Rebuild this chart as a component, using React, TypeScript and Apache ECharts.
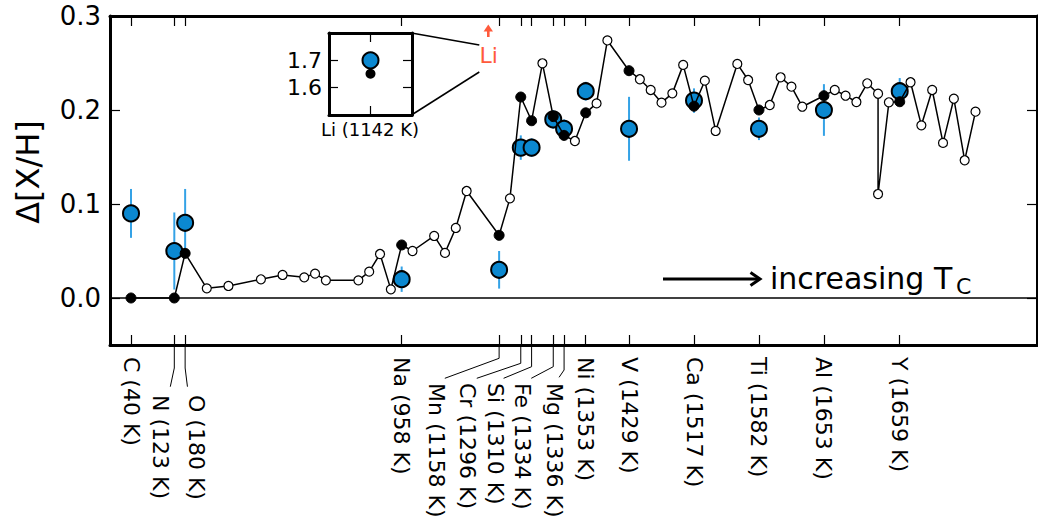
import React, { useEffect, useRef } from "react";
import * as echarts from "echarts";

// ---- data ----
const elemNames = ["C", "N", "O", "Na", "Mn", "Cr", "Si", "Fe", "Mg", "Ni", "V", "Ca", "Ti", "Al", "Y"];
const elemTc = [40, 123, 180, 958, 1158, 1296, 1310, 1334, 1336, 1353, 1429, 1517, 1582, 1653, 1659];
const elemRank = [0, 4, 5, 25, 34, 36, 37, 39, 40, 42, 46, 52, 58, 64, 71];
const starVals = [0.09, 0.05, 0.08, 0.02, 0.03, 0.16, 0.16, 0.19, 0.18, 0.22, 0.18, 0.21, 0.18, 0.2, 0.22];
const starErr = [0.026, 0.041, 0.036, 0.0135, 0.02, 0.013, 0.01, 0.01, 0.01, 0.01, 0.034, 0.013, 0.012, 0.0275, 0.014];
const modelAtElem = [0, 0, 0.0475, 0.0564, 0.0667, 0.2138, 0.1886, 0.193, 0.173, 0.197, 0.2418, 0.204, 0.2, 0.2152, 0.2088];
const otherRank = [7, 9, 12, 14, 16, 17, 18, 21, 22, 23, 24, 26, 28, 29, 30, 31, 35, 38, 41, 43, 44, 47, 48, 49, 50, 51, 53, 54, 56, 57, 59, 60, 61, 62, 65, 66, 67, 68, 69, 69, 70, 72, 73, 74, 75, 76, 77, 78];
const otherVals = [0.0103, 0.0128, 0.0199, 0.0245, 0.022, 0.0259, 0.0188, 0.0188, 0.028, 0.0468, 0.0092, 0.05, 0.066, 0.048, 0.0745, 0.1138, 0.106, 0.2497, 0.167, 0.207, 0.274, 0.2327, 0.2213, 0.2078, 0.2177, 0.248, 0.2312, 0.1777, 0.249, 0.2319, 0.2053, 0.2348, 0.2248, 0.2035, 0.2213, 0.2152, 0.2085, 0.2284, 0.2173, 0.1106, 0.2082, 0.2295, 0.1837, 0.2213, 0.165, 0.212, 0.1465, 0.1982];
const liName = "Li";
const liTc = 1142;
const liRank = 33;
const liStar = 1.7;
const liModel = 1.651;
const yTicks = [0, 0.1, 0.2, 0.3];
const insetTicks = [1.6, 1.7];

// ---- layout (not data) ----
const X_MIN = -1.94;
const X_MAX = 83.68;
// label layout per element: dx of label centre from tick, top of label, leader bend y, leader end (dx from label centre, y)
const labelLayout = [
  { dx: 0, top: 357 },
  { dx: -14.3, top: 395, bend: 368, ex: 10.3, ey: 386.7 },
  { dx: 11.8, top: 395, bend: 368, ex: -9.5, ey: 386.7 },
  { dx: 0, top: 357 },
  { dx: -62.6, top: 383, bend: 358.3, ex: 8.3, ey: 378.3 },
  { dx: -53.4, top: 383, bend: 363.3, ex: 9.4, ey: 378.3 },
  { dx: -36.3, top: 383, bend: 366.7, ex: 8.3, ey: 378.3 },
  { dx: -31, top: 383, bend: 366.7, ex: 9, ey: 378.3 },
  { dx: -9.3, top: 383, bend: 370, ex: 4.3, ey: 377.3 },
  { dx: 0, top: 357 },
  { dx: 0, top: 357 },
  { dx: 0, top: 357 },
  { dx: 0, top: 357 },
  { dx: 0, top: 357 },
  { dx: 0, top: 357 },
];

const FONT = "DejaVu Sans";
const BLUE = "#0b88d0";
const ERR = "#34a2e6";
const RED = "#ff5a3c";

export default function App() {
  const ref = useRef<HTMLDivElement>(null);
  useEffect(() => {
    if (!ref.current) return;
    const chart = echarts.init(ref.current, null, { renderer: "svg" });

    const pts: { x: number; y: number; e: boolean }[] = [];
    elemRank.forEach((r, k) => pts.push({ x: r, y: modelAtElem[k], e: true }));
    otherRank.forEach((r, k) => pts.push({ x: r, y: otherVals[k], e: false }));
    pts.sort((a, b) => a.x - b.x);
    const lineData = pts.map((p) =>
      p.e
        ? { value: [p.x, p.y], symbolSize: 10, itemStyle: { color: "#000", borderColor: "#000", borderWidth: 1 } }
        : { value: [p.x, p.y] }
    );

    const axisBase = (extra: any) => ({
      type: "value",
      splitLine: { show: false },
      axisLine: { show: true, onZero: false, lineStyle: { color: "#000", width: 3 } },
      ...extra,
    });

    const option: any = {
      animation: false,
      backgroundColor: "#fff",
      grid: [
        { left: 110, top: 16, width: 927, height: 329, outerBoundsMode: "none" },
        { left: 329, top: 33, width: 83, height: 82, outerBoundsMode: "none" },
      ],
      xAxis: [
        axisBase({ gridIndex: 0, min: X_MIN, max: X_MAX, position: "bottom", axisTick: { inside: true, length: 10, customValues: elemRank, lineStyle: { color: "#000", width: 1.2 } }, axisLabel: { show: false } }),
        axisBase({ gridIndex: 0, min: X_MIN, max: X_MAX, position: "top", axisTick: { inside: true, length: 10, customValues: elemRank, lineStyle: { color: "#000", width: 1.2 } }, axisLabel: { show: false } }),
        axisBase({ gridIndex: 1, min: 0, max: 2, position: "bottom", axisTick: { inside: true, length: 9, customValues: [1], lineStyle: { color: "#000", width: 1.2 } }, axisLabel: { show: false } }),
        axisBase({ gridIndex: 1, min: 0, max: 2, position: "top", axisTick: { inside: true, length: 9, customValues: [1], lineStyle: { color: "#000", width: 1.2 } }, axisLabel: { show: false } }),
      ],
      yAxis: [
        axisBase({
          gridIndex: 0, min: -0.05, max: 0.3, position: "left",
          axisTick: { inside: true, length: 10, customValues: yTicks, lineStyle: { color: "#000", width: 1.2 } },
          axisLabel: { customValues: yTicks, formatter: (v: number) => v.toFixed(1), fontSize: 26, fontFamily: FONT, color: "#000", margin: 9 },
        }),
        axisBase({ gridIndex: 0, min: -0.05, max: 0.3, position: "right", axisTick: { inside: true, length: 10, customValues: yTicks, lineStyle: { color: "#000", width: 1.2 } }, axisLabel: { show: false } }),
        axisBase({
          gridIndex: 1, min: 1.5, max: 1.8, position: "left",
          axisTick: { inside: true, length: 9, customValues: insetTicks, lineStyle: { color: "#000", width: 1.2 } },
          axisLabel: { customValues: insetTicks, formatter: (v: number) => v.toFixed(1), fontSize: 22, fontFamily: FONT, color: "#000", margin: 7 },
        }),
        axisBase({ gridIndex: 1, min: 1.5, max: 1.8, position: "right", axisTick: { inside: true, length: 9, customValues: insetTicks, lineStyle: { color: "#000", width: 1.2 } }, axisLabel: { show: false } }),
      ],
      series: [
        {
          type: "custom",
          xAxisIndex: 0,
          yAxisIndex: 0,
          z: 1,
          data: elemRank.map((r, k) => [r, starVals[k] - starErr[k], starVals[k] + starErr[k]]),
          renderItem: (params: any, api: any) => {
            const lo = api.coord([api.value(0), api.value(1)]);
            const hi = api.coord([api.value(0), api.value(2)]);
            return { type: "line", shape: { x1: lo[0], y1: lo[1], x2: hi[0], y2: hi[1] }, style: { stroke: ERR, lineWidth: 2 } };
          },
        },
        {
          type: "line",
          xAxisIndex: 0,
          yAxisIndex: 0,
          z: 2,
          data: [[X_MIN, 0], [X_MAX, 0]],
          showSymbol: false,
          lineStyle: { color: "#000", width: 1.5 },
          silent: true,
        },
        {
          type: "scatter",
          xAxisIndex: 0,
          yAxisIndex: 0,
          z: 3,
          symbolSize: 16,
          itemStyle: { color: BLUE, borderColor: "#000", borderWidth: 2, opacity: 1 },
          data: elemRank.map((r, k) => [r, starVals[k]]),
        },
        {
          type: "line",
          xAxisIndex: 0,
          yAxisIndex: 0,
          z: 4,
          data: lineData,
          showSymbol: true,
          showAllSymbol: true,
          symbol: "circle",
          symbolSize: 9,
          itemStyle: { color: "#fff", borderColor: "#000", borderWidth: 1.2 },
          lineStyle: { color: "#000", width: 1.5 },
        },
        {
          type: "scatter",
          xAxisIndex: 2,
          yAxisIndex: 2,
          z: 3,
          symbolSize: 16,
          itemStyle: { color: BLUE, borderColor: "#000", borderWidth: 2, opacity: 1 },
          data: [[1, liStar]],
        },
        {
          type: "scatter",
          xAxisIndex: 2,
          yAxisIndex: 2,
          z: 4,
          symbolSize: 10,
          itemStyle: { color: "#000", opacity: 1 },
          data: [[1, liModel]],
        },
      ],
    };
    chart.setOption(option);

    const px = (r: number) => chart.convertToPixel({ xAxisIndex: 0, yAxisIndex: 0 } as any, [r, 0])[0];
    const txt = (x: number, y: number, text: string, size: number, opts: any = {}) => ({
      type: "text",
      x,
      y,
      rotation: opts.rotation || 0,
      z: 100,
      style: {
        text,
        fontSize: size,
        fontFamily: FONT,
        fill: opts.fill || "#000",
        align: opts.align || "center",
        verticalAlign: opts.va || "middle",
        textAlign: opts.align || "center",
        textVerticalAlign: opts.va || "middle",
      },
    });

    const g: any[] = [];
    elemRank.forEach((r, k) => {
      const tx = px(r);
      const L: any = labelLayout[k];
      const cx = tx + L.dx;
      g.push(txt(cx, L.top, `${elemNames[k]} (${elemTc[k]} K)`, 22, { rotation: -Math.PI / 2, align: "left" }));
      if (L.bend !== undefined) {
        g.push({
          type: "polyline",
          z: 100,
          shape: { points: [[tx, 345], [tx, L.bend], [cx + L.ex, L.ey]] },
          style: { stroke: "#000", lineWidth: 1, fill: null },
        });
      }
    });

    // Li marker (off the top of the chart) and inset connectors
    const lx = px(liRank);
    g.push({ type: "line", z: 100, shape: { x1: lx, y1: 37, x2: lx, y2: 30 }, style: { stroke: RED, lineWidth: 2.6 } });
    g.push({ type: "polygon", z: 100, shape: { points: [[lx - 4.7, 31.5], [lx + 4.7, 31.5], [lx, 24.5]] }, style: { fill: RED } });
    g.push(txt(lx + 0.5, 55, liName, 22, { fill: RED }));
    g.push({ type: "line", z: 100, shape: { x1: 411.5, y1: 33, x2: lx - 9, y2: 45 }, style: { stroke: "#000", lineWidth: 1.5 } });
    g.push({ type: "line", z: 100, shape: { x1: 411.5, y1: 115, x2: lx - 9, y2: 72 }, style: { stroke: "#000", lineWidth: 1.5 } });
    g.push(txt(370, 129, `${liName} (${liTc} K)`, 18));

    // y-axis title
    g.push(txt(28, 172, "Δ[X/H]", 32, { rotation: Math.PI / 2 }));

    // increasing Tc arrow
    g.push({ type: "line", z: 100, shape: { x1: 663, y1: 279, x2: 759, y2: 279 }, style: { stroke: "#000", lineWidth: 3 } });
    g.push({ type: "polyline", z: 100, shape: { points: [[750.5, 272.5], [760, 279], [750.5, 285.5]] }, style: { stroke: "#000", lineWidth: 3, fill: null } });
    g.push(txt(770, 278, "increasing T", 30, { align: "left" }));
    g.push(txt(956, 286, "C", 22, { align: "left" }));

    chart.setOption({ graphic: g });
    return () => chart.dispose();
  }, []);
  return <div ref={ref} style={{ position: "fixed", left: 0, top: 0, width: 1038, height: 523 }} />;
}
